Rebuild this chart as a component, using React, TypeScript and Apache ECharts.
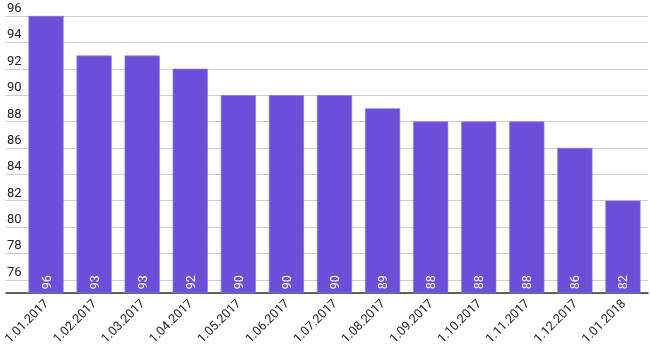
import React, { useEffect, useRef } from "react";
import * as echarts from "echarts";

const categories = [
  "1.01.2017", "1.02.2017", "1.03.2017", "1.04.2017", "1.05.2017", "1.06.2017",
  "1.07.2017", "1.08.2017", "1.09.2017", "1.10.2017", "1.11.2017", "1.12.2017", "1.01.2018",
];
const values = [96, 93, 93, 92, 90, 90, 90, 89, 88, 88, 88, 86, 82];
const yMin = 75;
const yMax = 96;

export default function App() {
  const ref = useRef<HTMLDivElement>(null);
  useEffect(() => {
    if (!ref.current) return;
    const chart = echarts.init(ref.current, null, { renderer: "svg" });
    const font = "Roboto, Arial, sans-serif";
    chart.setOption({
      animation: false,
      grid: [
        { left: 6, right: 2, top: 16, bottom: 60 },
        { left: 19, right: 3, top: 16, bottom: 60 },
      ],
      xAxis: [
        {
          gridIndex: 0, type: "value", min: 0, max: 1,
          axisLine: { show: true, onZero: false, lineStyle: { color: "#333", width: 1.5 } },
          axisTick: { show: false }, axisLabel: { show: false }, splitLine: { show: false },
        },
        {
          gridIndex: 1, type: "category", data: categories,
          axisLine: { show: false }, axisTick: { show: false },
          axisLabel: {
            rotate: 45, margin: 8, color: "#222", fontSize: 12.5, fontFamily: font, interval: 0,
          },
        },
      ],
      yAxis: [
        {
          gridIndex: 0, type: "value", min: yMin, max: yMax, splitNumber: 10,
          axisLine: { show: false }, axisTick: { show: false },
          axisLabel: {
            inside: true, margin: 1, align: "left", verticalAlign: "bottom",
            padding: [0, 0, 2, 0], color: "#222", fontSize: 13, fontFamily: font,
            formatter: (v: number) => (v === yMin ? "" : String(v)),
          },
          splitLine: { show: true, lineStyle: { color: "#ccc", width: 1 } },
        },
        {
          gridIndex: 1, type: "value", min: yMin, max: yMax, show: false,
          splitLine: { show: false },
        },
      ],
      series: [
        {
          type: "bar", xAxisIndex: 1, yAxisIndex: 1, data: values,
          barCategoryGap: "27%",
          itemStyle: { color: "#6b4fd9", borderColor: "#8c76e4", borderWidth: 0.6 },
          label: {
            show: true, position: "insideBottom", rotate: 90, align: "left",
            verticalAlign: "middle", distance: 4, color: "#fff", fontSize: 12.5,
            fontFamily: font,
          },
          z: 3,
        },
      ],
    });
    return () => chart.dispose();
  }, []);
  return (
    <div
      ref={ref}
      style={{ position: "fixed", left: 0, top: 0, width: 650, height: 353 }}
    />
  );
}
